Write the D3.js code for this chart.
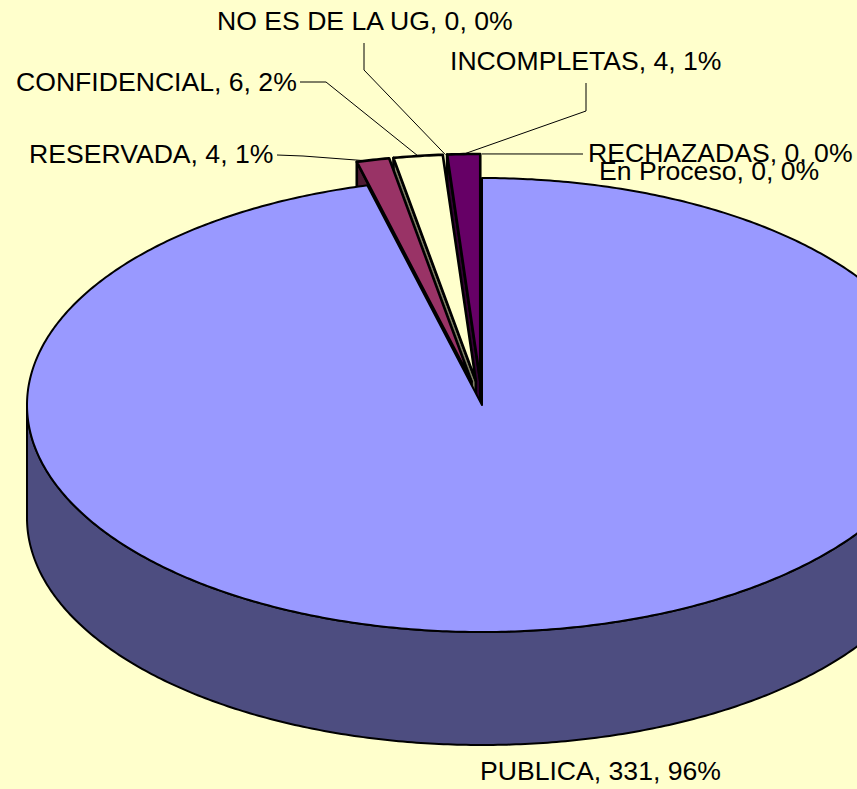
<!DOCTYPE html>
<html>
<head>
<meta charset="utf-8">
<script src="https://cdn.jsdelivr.net/npm/d3@7"></script>
<style>
  html, body { margin: 0; padding: 0; background: #FFFFCC; overflow: hidden; }
</style>
</head>
<body>
<div id="chart"></div>
<script>
// datos de la grafica
const categorias = ["PUBLICA", "RESERVADA", "CONFIDENCIAL", "NO ES DE LA UG", "INCOMPLETAS", "RECHAZADAS", "En Proceso"];
const valores = [331, 4, 6, 0, 4, 0, 0];
const colores = ["#9999FF", "#993366", "#FFFFCC", "#CCFFFF", "#660066", "#FF8080", "#0066CC"];

function drawPie3D() {
    d3.select("#chart").selectAll("*").remove();

    let width = 857, height = 789;
    let cx = 482, cy = 405;        // centro de la cara superior
    let rx = 455, ry = 227;        // radios de la elipse
    let depth = 113;               // grosor del pastel
    let explode = 0.106;           // separacion de las rebanadas pequeñas

    let svg = d3.select("#chart")
        .append("svg")
        .attr("width", width)
        .attr("height", height)
        .style("background", "#FFFFCC")
        .style("display", "block");

    let total = d3.sum(valores);
    let pie = d3.pie().sort(null).value(d => d);
    let arcs = pie(valores).map((a, i) => {
        let mid = (a.startAngle + a.endAngle) / 2;
        let e = i === 0 ? 0 : explode;
        return {
            i: i,
            name: categorias[i],
            value: valores[i],
            a0: a.startAngle,
            a1: a.endAngle,
            mid: mid,
            ox: e * rx * Math.sin(mid),
            oy: -e * ry * Math.cos(mid)
        };
    });

    let shade = c => { let k = d3.rgb(c); return d3.rgb(k.r * 0.5, k.g * 0.5, k.b * 0.5).formatHex(); };

    let pt = (d, a, r, dz) => [cx + d.ox + rx * r * Math.sin(a), cy + d.oy - ry * r * Math.cos(a) + (dz || 0)];
    let line = d3.line();

    let arcPts = (d, a0, a1, dz) => {
        let n = Math.max(2, Math.ceil(Math.abs(a1 - a0) / 0.01));
        return d3.range(n + 1).map(k => pt(d, a0 + (a1 - a0) * k / n, 1, dz));
    };

    // orden de dibujo: primero las rebanadas del fondo
    let order = arcs.slice().sort((p, q) => (-Math.cos(p.mid)) - (-Math.cos(q.mid)));

    let g = svg.append("g");

    order.forEach(d => {
        if (d.value <= 0) return;
        let side = shade(colores[d.i]);
        let sw = d.i === 0 ? 2 : 2.6;

        // pared radial inicial
        if (Math.sin(d.a0) < -1e-6) {
            g.append("path")
                .attr("d", line([pt(d, 0, 0), pt(d, d.a0, 1), pt(d, d.a0, 1, depth), pt(d, 0, 0, depth)]) + "Z")
                .attr("fill", side)
                .attr("stroke", "#000")
                .attr("stroke-width", sw)
                .attr("stroke-linejoin", "round");
        }
        // pared radial final
        if (Math.sin(d.a1) > 1e-6) {
            g.append("path")
                .attr("d", line([pt(d, 0, 0), pt(d, d.a1, 1), pt(d, d.a1, 1, depth), pt(d, 0, 0, depth)]) + "Z")
                .attr("fill", side)
                .attr("stroke", "#000")
                .attr("stroke-width", sw)
                .attr("stroke-linejoin", "round");
        }
        // pared curva (solo la parte frontal)
        let s = Math.max(d.a0, Math.PI / 2), t = Math.min(d.a1, 3 * Math.PI / 2);
        if (t > s) {
            let top = arcPts(d, s, t, 0);
            let bottom = arcPts(d, s, t, depth).reverse();
            g.append("path")
                .attr("d", line(top.concat(bottom)) + "Z")
                .attr("fill", side)
                .attr("stroke", "#000")
                .attr("stroke-width", sw)
                .attr("stroke-linejoin", "round");
        }
        // cara superior
        g.append("path")
            .attr("d", line([pt(d, 0, 0)].concat(arcPts(d, d.a0, d.a1, 0))) + "Z")
            .attr("fill", colores[d.i])
            .attr("stroke", "#000")
            .attr("stroke-width", sw)
            .attr("stroke-linejoin", "round");
    });

    // etiquetas: posicion del texto (inicio, linea base) y codo de la linea guia
    let etiquetas = {
        "PUBLICA":        { x: 480, y: 780 },
        "RESERVADA":      { x: 29,  y: 163, lead: [[277, 155], [303, 156]] },
        "CONFIDENCIAL":   { x: 16,  y: 91,  lead: [[300, 82], [326, 82]] },
        "NO ES DE LA UG": { x: 217, y: 30,  lead: [[364, 43], [364, 70]] },
        "INCOMPLETAS":    { x: 450, y: 70,  lead: [[586, 83], [586, 111]] },
        "RECHAZADAS":     { x: 588, y: 162, lead: [[583, 154]] },
        "En Proceso":     { x: 599, y: 180 }
    };

    arcs.forEach(d => {
        let L = etiquetas[d.name];
        if (L.lead) {
            // la guia de RESERVADA llega al borde izquierdo de la rebanada
            let a = d.name === "RESERVADA" ? d.a0 + 0.02 : d.mid;
            let ancla = pt(d, a, 1);
            svg.append("path")
                .attr("d", line(L.lead.concat([ancla])))
                .attr("fill", "none")
                .attr("stroke", "#000")
                .attr("stroke-width", 1);
        }
    });

    arcs.forEach(d => {
        let L = etiquetas[d.name];
        svg.append("text")
            .attr("x", L.x)
            .attr("y", L.y)
            .attr("text-anchor", "start")
            .style("font-family", "'Liberation Sans', Arial, sans-serif")
            .style("font-size", "26.6px")
            .style("fill", "#000")
            .text(`${d.name}, ${d.value}, ${Math.round(d.value / total * 100)}%`);
    });
}

drawPie3D();
</script>
</body>
</html>
